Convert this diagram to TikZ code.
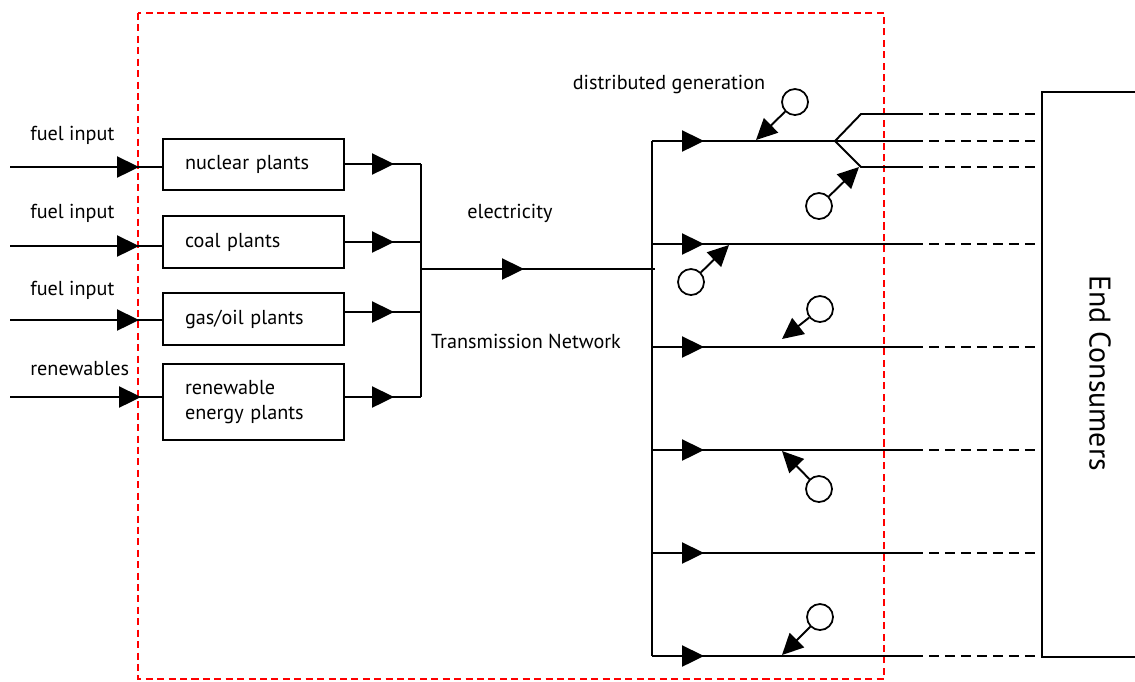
\documentclass[tikz,border=0pt]{standalone}
\usepackage{fontspec}
\setmainfont{PT Sans}
\usetikzlibrary{arrows.meta,calc}
\begin{document}
\begin{tikzpicture}[x=0.02cm,y=-0.02cm,
  ln/.style={line width=1.1pt},
  arr/.style={line width=1.1pt,-{Triangle[length=12.5pt,width=12pt]}},
  dgarr/.style={line width=1.1pt,-{Triangle[length=12pt,width=11.5pt]}},
  plant/.style={draw,line width=1.1pt,minimum width=3.62cm,text width=2.74cm,align=left,inner xsep=0.44cm,inner ysep=0pt,font=\fontsize{11.5}{14}\selectfont},
  lbl/.style={font=\fontsize{11.5}{14}\selectfont,inner sep=0pt},
  dg/.style={draw,circle,line width=1pt,minimum size=0.52cm,inner sep=0pt},
  feed/.style={line width=1.1pt,dash pattern=on 5.5pt off 3.6pt},
  border/.style={draw=red,line width=0.9pt,dash pattern=on 4pt off 2.5pt}]
\useasboundingbox (0,0) rectangle (1135,681);
\clip (0,0) rectangle (1135,681);
% system border
\draw[border] (138,13) rectangle (884,679);
% plants
\node[plant,minimum height=1.02cm] (nuc) at (253.5,164.5) {nuclear plants};
\node[plant,minimum height=1.04cm] (coal) at (253.5,242) {coal plants};
\node[plant,minimum height=1.04cm] (gas) at (253.5,319) {gas/oil plants};
\node[plant,minimum height=1.52cm] (ren) at (253.5,402) {renewable\\energy plants};
% input labels
\node[lbl,anchor=west] (l1) at (30,135) {fuel input};
\node[lbl,anchor=west] (l2) at (30,213) {fuel input};
\node[lbl,anchor=west] (l3) at (30,290) {fuel input};
\node[lbl,anchor=west] (l4) at (30,369) {renewables};
% inputs
\coordinate (i1) at (10,167);  \coordinate (a1) at (139,167);
\coordinate (i2) at (10,246);  \coordinate (a2) at (139,246);
\coordinate (i3) at (10,320);  \coordinate (a3) at (139,320);
\coordinate (i4) at (10,397);  \coordinate (a4) at (141,397);
\draw[ln] (i1) -- (i1 -| nuc.west);  \draw[arr] (i1) -- (a1);
\draw[ln] (i2) -- (i2 -| coal.west); \draw[arr] (i2) -- (a2);
\draw[ln] (i3) -- (i3 -| gas.west);  \draw[arr] (i3) -- (a3);
\draw[ln] (i4) -- (i4 -| ren.west);  \draw[arr] (i4) -- (a4);
% outputs to bus
\coordinate (b1) at (421,164); \coordinate (o1) at (394,164);
\coordinate (b2) at (421,242); \coordinate (o2) at (394,242);
\coordinate (b3) at (421,312); \coordinate (o3) at (394,312);
\coordinate (b4) at (421,397); \coordinate (o4) at (394,397);
\draw[ln] (b1 -| nuc.east) -- (b1);  \draw[arr] (b1 -| nuc.east) -- (o1);
\draw[ln] (b2 -| coal.east) -- (b2); \draw[arr] (b2 -| coal.east) -- (o2);
\draw[ln] (b3 -| gas.east) -- (b3);  \draw[arr] (b3 -| gas.east) -- (o3);
\draw[ln] (b4 -| ren.east) -- (b4);  \draw[arr] (b4 -| ren.east) -- (o4);
\draw[ln] (b1) -- (b4);
% transmission
\coordinate (t0) at (421,269); \coordinate (te) at (524,269); \coordinate (t1) at (655,269);
\draw[ln] (t0) -- (t1); \draw[arr] (t0) -- (te);
\node[lbl] (elec) at (510,213) {electricity};
\node[lbl] (tn) at (526,341) {Transmission Network};
% distribution bus
\coordinate (f1) at (652,141); \coordinate (f2) at (652,244); \coordinate (f3) at (652,347);
\coordinate (f4) at (652,450); \coordinate (f5) at (652,553); \coordinate (f6) at (652,656);
\draw[ln] (f1) -- (f6);
% end consumers
\node[draw,line width=1.1pt,minimum width=2.5cm,minimum height=11.3cm,anchor=north west] (ec) at (1041,91) {};
\node[font=\fontsize{17}{20}\selectfont,rotate=-90] (ect) at (1100,373) {End Consumers};
% feeders
\coordinate (s1) at (913,141); \coordinate (s2) at (913,244); \coordinate (s3) at (913,347);
\coordinate (s4) at (913,450); \coordinate (s5) at (913,553); \coordinate (s6) at (913,656);
\coordinate (br) at (835,141);
\coordinate (bu) at (861,114); \coordinate (bd) at (861,167);
\coordinate (su) at (913,114); \coordinate (sd) at (913,167);
\draw[ln] (f1) -- (s1);
\draw[ln] (br) -- (bu) -- (su);
\draw[ln] (br) -- (bd) -- (sd);
\foreach \a/\b in {f2/s2,f3/s3,f4/s4,f5/s5,f6/s6}{\draw[ln] (\a) -- (\b);}
\foreach \s in {su,s1,sd,s2,s3,s4,s5,s6}{\draw[feed] (\s) -- (\s -| ec.west);}
\foreach \f in {f1,f2,f3,f4,f5,f6}{\draw[arr] (\f) -- ($(\f)+(52,0)$);}
% distributed generation
\node[lbl] (dgl) at (669,84) {distributed generation};
\node[dg] (c1) at (795,102) {}; \coordinate (g1) at (756,140);
\node[dg] (c2) at (819,206) {}; \coordinate (g2) at (859,167);
\node[dg] (c3) at (691,282) {}; \coordinate (g3) at (729,245);
\node[dg] (c4) at (820,309) {}; \coordinate (g4) at (782,339);
\node[dg] (c5) at (819,489) {}; \coordinate (g5) at (782,451);
\node[dg] (c6) at (820,617) {}; \coordinate (g6) at (782,655);
\foreach \i in {1,...,6}{\draw[dgarr] (c\i) -- (g\i);}
\end{tikzpicture}
\end{document}
